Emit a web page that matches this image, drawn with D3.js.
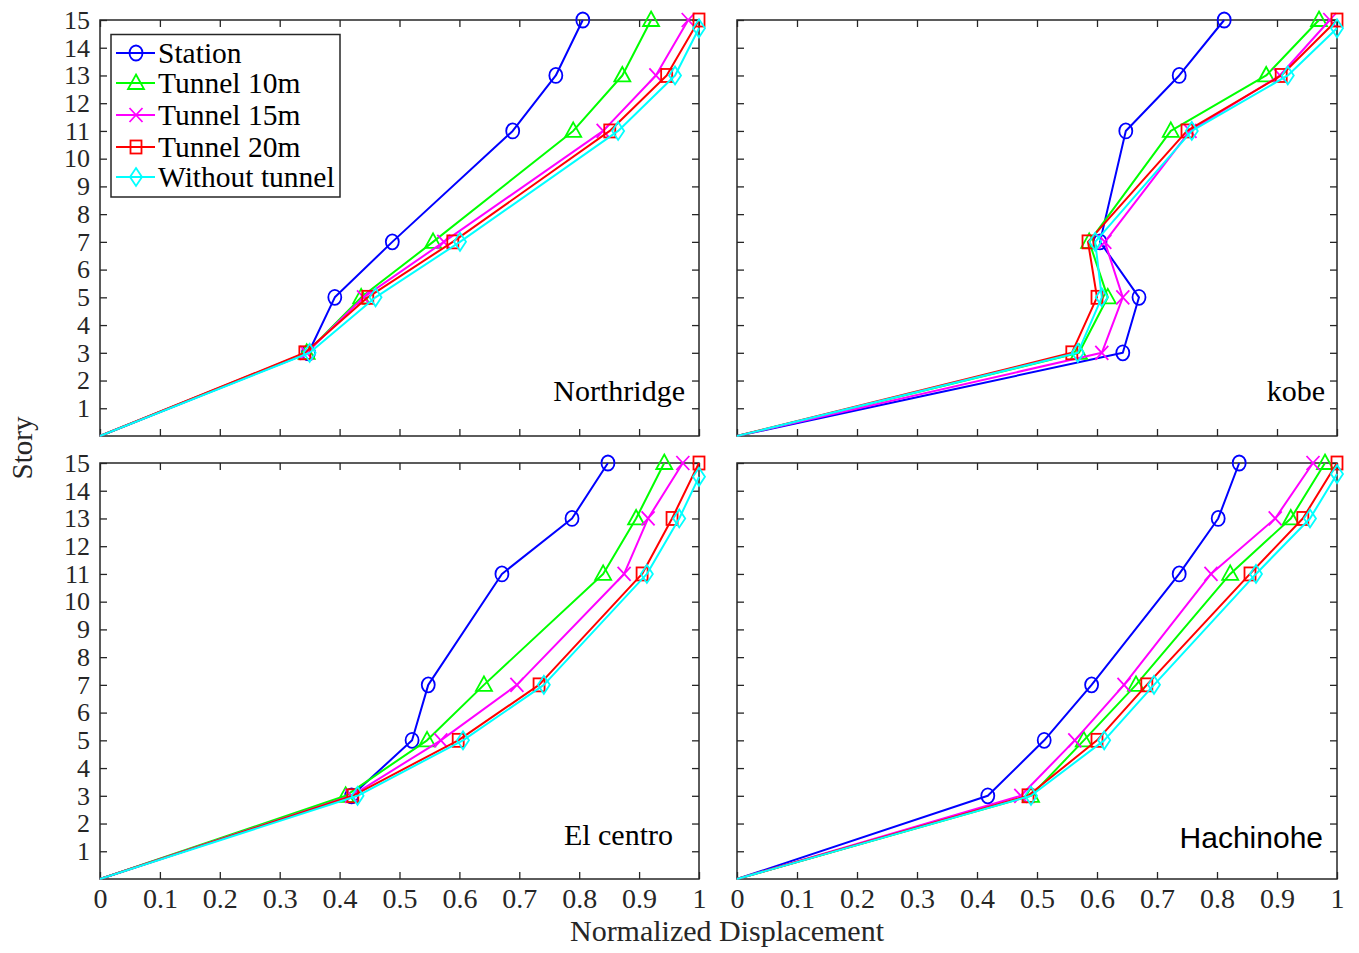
<!DOCTYPE html>
<html>
<head>
<meta charset="utf-8">
<script src="https://cdn.jsdelivr.net/npm/d3@7"></script>
<style>
  html, body { margin: 0; padding: 0; background: #fff; }
  svg { display: block; }
</style>
</head>
<body>
<svg id="chart" width="1359" height="953"></svg>
<script>
// ---------------- data ----------------
const stories = [0, 3, 5, 7, 11, 13, 15];
const seriesNames = ["Station", "Tunnel 10m", "Tunnel 15m", "Tunnel 20m", "Without tunnel"];
const panelTitles = ["Northridge", "kobe", "El centro", "Hachinohe"];
const xTickValues = [0, 0.1, 0.2, 0.3, 0.4, 0.5, 0.6, 0.7, 0.8, 0.9, 1];
const xTickLabels = ["0", "0.1", "0.2", "0.3", "0.4", "0.5", "0.6", "0.7", "0.8", "0.9", "1"];
const yTickValues = [1, 2, 3, 4, 5, 6, 7, 8, 9, 10, 11, 12, 13, 14, 15];

// "Without tunnel" top point sits slightly below story 15 in the figure
const storiesWithoutNorthridge = [0, 3, 5, 7, 11, 13, 14.7];
const storiesWithoutKobe = [0, 3, 5, 7, 11, 13, 14.7];
const storiesWithoutElcentro = [0, 3, 5, 7, 11, 13, 14.5];
const storiesWithoutHachinohe = [0, 3, 5, 7, 11, 13, 14.6];

const northridgeStation = [0, 0.348, 0.392, 0.488, 0.689, 0.761, 0.806];
const northridgeT10     = [0, 0.345, 0.436, 0.556, 0.790, 0.872, 0.920];
const northridgeT15     = [0, 0.345, 0.440, 0.574, 0.840, 0.928, 0.982];
const northridgeT20     = [0, 0.342, 0.447, 0.589, 0.851, 0.946, 1.000];
const northridgeWithout = [0, 0.350, 0.460, 0.601, 0.865, 0.960, 1.000];

const kobeStation = [0, 0.643, 0.670, 0.605, 0.648, 0.737, 0.812];
const kobeT10     = [0, 0.570, 0.618, 0.587, 0.723, 0.882, 0.970];
const kobeT15     = [0, 0.608, 0.643, 0.613, 0.755, 0.905, 0.988];
const kobeT20     = [0, 0.558, 0.600, 0.585, 0.750, 0.907, 1.000];
const kobeWithout = [0, 0.568, 0.608, 0.597, 0.758, 0.918, 1.000];

const elcentroStation = [0, 0.420, 0.521, 0.548, 0.671, 0.788, 0.848];
const elcentroT10     = [0, 0.410, 0.546, 0.641, 0.840, 0.895, 0.942];
const elcentroT15     = [0, 0.420, 0.569, 0.696, 0.875, 0.915, 0.973];
const elcentroT20     = [0, 0.422, 0.598, 0.733, 0.905, 0.955, 1.000];
const elcentroWithout = [0, 0.430, 0.606, 0.741, 0.913, 0.967, 1.000];

const hachinoheStation = [0, 0.418, 0.512, 0.591, 0.737, 0.802, 0.837];
const hachinoheT10     = [0, 0.490, 0.578, 0.665, 0.822, 0.923, 0.980];
const hachinoheT15     = [0, 0.473, 0.563, 0.645, 0.790, 0.897, 0.960];
const hachinoheT20     = [0, 0.485, 0.600, 0.683, 0.855, 0.943, 1.000];
const hachinoheWithout = [0, 0.490, 0.612, 0.695, 0.865, 0.955, 1.000];

// ---------------- styles ----------------
const colors = ["#0000ff", "#00ff00", "#ff00ff", "#ff0000", "#00ffff"];
const markers = ["circle", "triangle", "x", "square", "diamond"];
const serif = "'Liberation Serif', 'Times New Roman', serif";
const sans = "'Liberation Sans', Arial, sans-serif";
const axisColor = "#262626";

const panels = [
  { title: panelTitles[0], series: [northridgeStation, northridgeT10, northridgeT15, northridgeT20, northridgeWithout],
    yWithout: storiesWithoutNorthridge, left: 100, right: 699, top: 20, bottom: 436, xLabels: false, yLabels: true,
    titleX: 685, titleY: 401, titleFont: serif },
  { title: panelTitles[1], series: [kobeStation, kobeT10, kobeT15, kobeT20, kobeWithout],
    yWithout: storiesWithoutKobe, left: 737, right: 1337, top: 20, bottom: 436, xLabels: false, yLabels: false,
    titleX: 1325, titleY: 401, titleFont: serif },
  { title: panelTitles[2], series: [elcentroStation, elcentroT10, elcentroT15, elcentroT20, elcentroWithout],
    yWithout: storiesWithoutElcentro, left: 100, right: 699, top: 463, bottom: 879, xLabels: true, yLabels: true,
    titleX: 673, titleY: 845, titleFont: serif },
  { title: panelTitles[3], series: [hachinoheStation, hachinoheT10, hachinoheT15, hachinoheT20, hachinoheWithout],
    yWithout: storiesWithoutHachinohe, left: 737, right: 1337, top: 463, bottom: 879, xLabels: true, yLabels: false,
    titleX: 1323, titleY: 848, titleFont: sans }
];

const svg = d3.select("#chart");

function drawMarker(g, type, cx, cy, color) {
  const sw = 1.8;
  if (type === "circle") {
    g.append("ellipse").attr("cx", cx).attr("cy", cy).attr("rx", 6.5).attr("ry", 7.5)
      .attr("fill", "none").attr("stroke", color).attr("stroke-width", sw);
  } else if (type === "triangle") {
    g.append("path").attr("d", `M${cx},${cy - 8.5}L${cx + 8},${cy + 6}L${cx - 8},${cy + 6}Z`)
      .attr("fill", "none").attr("stroke", color).attr("stroke-width", sw);
  } else if (type === "x") {
    g.append("path").attr("d", `M${cx - 6.5},${cy - 7}L${cx + 6.5},${cy + 7}M${cx - 6.5},${cy + 7}L${cx + 6.5},${cy - 7}`)
      .attr("fill", "none").attr("stroke", color).attr("stroke-width", sw);
  } else if (type === "square") {
    g.append("rect").attr("x", cx - 5.5).attr("y", cy - 6.5).attr("width", 11).attr("height", 13)
      .attr("fill", "none").attr("stroke", color).attr("stroke-width", sw);
  } else if (type === "diamond") {
    g.append("path").attr("d", `M${cx},${cy - 9}L${cx + 6},${cy}L${cx},${cy + 9}L${cx - 6},${cy}Z`)
      .attr("fill", "none").attr("stroke", color).attr("stroke-width", sw);
  }
}

panels.forEach(p => {
  const x = d3.scaleLinear().domain([0, 1]).range([p.left, p.right]);
  const y = d3.scaleLinear().domain([0, 15]).range([p.bottom, p.top]);
  const g = svg.append("g");

  // axes (ticks inward on all four sides)
  const tickLen = 7;
  const ax = (axis, transform, showLabels, fs) => {
    const a = g.append("g").attr("transform", transform).call(axis);
    a.select(".domain").remove();
    a.selectAll(".tick line").attr("stroke", axisColor).attr("stroke-width", 1.3);
    a.selectAll(".tick text").attr("fill", "#262626").style("font-family", serif).style("font-size", fs || "28px");
    if (!showLabels) a.selectAll(".tick text").remove();
    return a;
  };
  ax(d3.axisBottom(x).tickValues(xTickValues).tickFormat((d, i) => xTickLabels[i]).tickSizeInner(-tickLen).tickSizeOuter(0).tickPadding(9),
     `translate(0,${p.bottom})`, p.xLabels, "28px");
  ax(d3.axisTop(x).tickValues(xTickValues).tickSizeInner(-tickLen).tickSizeOuter(0), `translate(0,${p.top})`, false);
  ax(d3.axisLeft(y).tickValues(yTickValues).tickFormat(d3.format("d")).tickSizeInner(-tickLen).tickSizeOuter(0).tickPadding(10),
     `translate(${p.left},0)`, p.yLabels, "26px");
  ax(d3.axisRight(y).tickValues(yTickValues).tickSizeInner(-tickLen).tickSizeOuter(0), `translate(${p.right},0)`, false);

  g.append("rect").attr("x", p.left).attr("y", p.top).attr("width", p.right - p.left).attr("height", p.bottom - p.top)
    .attr("fill", "none").attr("stroke", axisColor).attr("stroke-width", 1.5);

  // series
  p.series.forEach((vals, si) => {
    const ys = si === 4 ? p.yWithout : stories;
    const pts = vals.map((v, i) => [v, ys[i]]);
    const line = d3.line().x(d => x(d[0])).y(d => y(d[1]));
    g.append("path").datum(pts).attr("d", line).attr("fill", "none")
      .attr("stroke", colors[si]).attr("stroke-width", 2).attr("stroke-linejoin", "round");
    const mg = g.append("g");
    pts.forEach((d, i) => { if (i > 0) drawMarker(mg, markers[si], x(d[0]), y(d[1]), colors[si]); });
  });

  // panel title
  g.append("text").attr("x", p.titleX).attr("y", p.titleY).attr("text-anchor", "end")
    .style("font-family", p.titleFont).style("font-size", "30px")
    .attr("fill", "#000").text(p.title);
});

// legend
const lg = svg.append("g");
lg.append("rect").attr("x", 111).attr("y", 34.5).attr("width", 229).attr("height", 162.5)
  .attr("fill", "#fff").attr("stroke", axisColor).attr("stroke-width", 1.5);
const legendRows = [53, 83, 115, 147, 177];
seriesNames.forEach((name, i) => {
  const yy = legendRows[i];
  lg.append("line").attr("x1", 116).attr("x2", 155).attr("y1", yy).attr("y2", yy)
    .attr("stroke", colors[i]).attr("stroke-width", 2);
  drawMarker(lg, markers[i], 136, yy, colors[i]);
  lg.append("text").attr("x", 158).attr("y", yy).attr("dy", "0.35em")
    .style("font-family", serif).style("font-size", "29.5px").attr("fill", "#000").text(name);
});

// axis titles
svg.append("text").attr("x", 727).attr("y", 941).attr("text-anchor", "middle")
  .style("font-family", serif).style("font-size", "30px").attr("fill", "#262626").text("Normalized Displacement");
svg.append("text").attr("transform", "translate(32,448) rotate(-90)").attr("text-anchor", "middle")
  .style("font-family", serif).style("font-size", "29px").attr("fill", "#262626").text("Story");
</script>
</body>
</html>
